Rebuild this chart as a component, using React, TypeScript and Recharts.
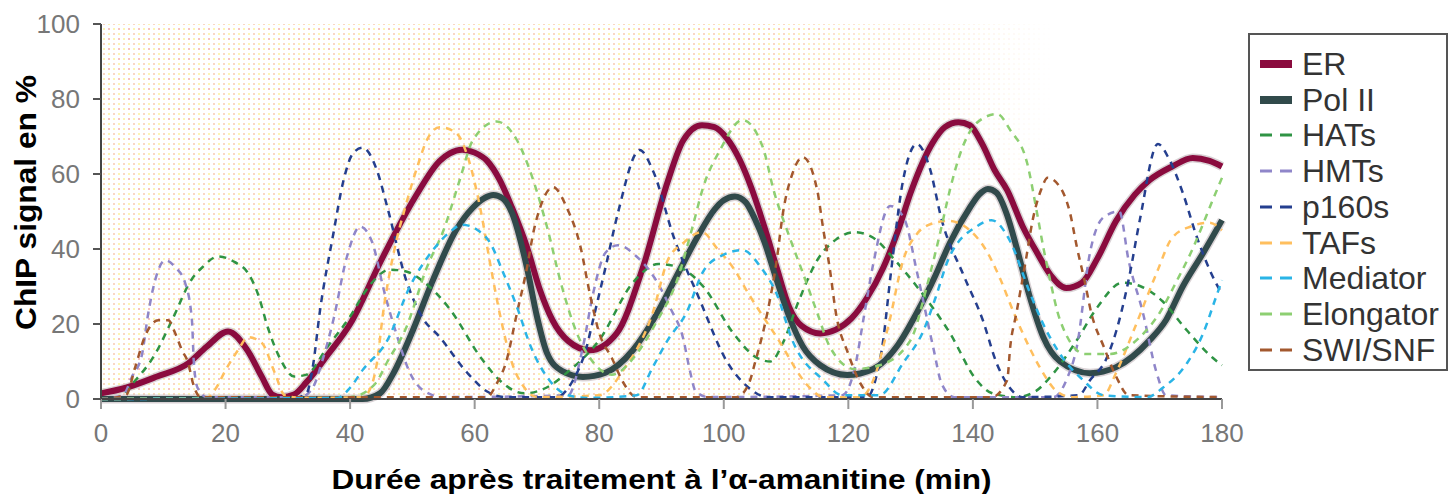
import React from "react";
import { LineChart, Line, XAxis, YAxis, CartesianGrid, Legend } from "recharts";

// ---- data: [time (min), ChIP signal %] ----
const ER_PTS: [number, number][] = [
  [0, 1.5], [4, 3], [9, 6], [14, 9.5], [17, 14], [20.4, 18], [23.5, 13], [25.8, 6], [27.5, 1.2], [29, 0.5],
  [31, 1.2], [33, 4.5], [36.5, 12], [40, 20], [45, 37], [50.5, 54], [54.4, 63.5], [56, 65.5], [58, 66.5],
  [60, 65.7], [62, 63.5], [64, 58.5], [66, 51], [68.4, 40.5], [70.5, 29], [72.5, 21], [75, 15.5], [78.5, 13],
  [82.8, 17.5], [87, 35], [91, 58], [93.5, 69], [96.5, 73], [98.5, 72.5], [100.5, 69.5], [102.5, 64],
  [104.5, 56], [106.5, 46], [108.5, 35], [110.5, 24.5], [112.5, 19.5], [115.5, 17.5], [118, 18.5],
  [120.5, 21.5], [123, 27], [125.6, 35], [128, 45], [130, 55], [133.6, 68.5], [135.5, 72.5], [137.7, 73.8],
  [139.5, 73], [141.5, 68], [143.5, 61], [145.5, 55.7], [148, 46], [150.3, 39], [152.5, 33], [155, 29.6],
  [157.5, 31], [160, 37.5], [163, 47.5], [166, 54.5], [168.4, 58.4], [172, 62], [175.3, 64.3], [178, 63.5],
  [180, 62],
];
const POL2_PTS: [number, number][] = [
  [0, 0], [42, 0], [44.8, 1.5], [47, 7], [50, 18], [53.3, 31.7], [57, 45], [59.7, 51], [61.5, 53.5],
  [63, 54.4], [64.5, 53.5], [66, 49.6], [68.4, 35], [70, 22], [71.6, 12.3], [74, 7.5], [77.4, 5.9], [81, 7],
  [85.4, 13], [89, 22], [92.5, 33], [95.7, 43], [98.5, 50.5], [100, 53], [101.8, 54], [103.5, 52.5],
  [105, 48], [106.5, 42], [108.5, 31.7], [110.5, 22], [112.7, 14], [115.5, 9], [119.8, 6.4], [124, 8],
  [128, 14.5], [131, 23], [134, 33], [136.3, 41.6], [139.5, 51], [141, 54.5], [142.4, 56], [143.8, 55],
  [145.5, 49], [147, 40.5], [149, 28], [151.3, 16.5], [154, 10], [158.8, 6.9], [163, 8.5], [168.4, 15.7],
  [171, 21], [173.7, 30], [177, 39], [180, 47.7],
];
const HATS_PTS: [number, number][] = [
  [0, 0], [3, 0.5], [5, 4], [8.7, 12], [11.4, 21], [14.6, 32], [16.2, 35], [18.8, 38], [21.5, 36.5],
  [23.6, 33.6], [25.2, 28], [26.8, 19], [29, 10], [31, 6], [33, 6.5], [36.4, 14], [40, 22], [43, 30],
  [46.4, 34.5], [49, 34], [52, 31], [56, 24], [61, 11], [64, 5], [68, 1.5], [71.5, 3], [74.8, 7], [80, 15.7],
  [85.4, 31], [89.5, 36], [93, 35], [96.7, 30], [101.5, 17.6], [105.3, 11], [107.5, 10], [109.5, 15],
  [112, 26], [115, 37], [118, 42.5], [121, 44.5], [124, 43], [127.5, 37], [131, 30], [136.3, 17.6],
  [140.6, 5], [143, 1.6], [147, 0.5], [150, 2], [153, 7], [156.7, 15.7], [160, 24.5], [164, 31], [167, 30],
  [170.5, 26], [174, 19], [178.5, 11], [180, 9],
];
const HMTS_PTS: [number, number][] = [
  [0, 0], [3.5, 1], [5, 6], [6.6, 12], [7.5, 22], [8.7, 31.7], [10.3, 37], [12, 35], [13.5, 31], [14.6, 21],
  [14.9, 10], [15.5, 3], [17, 0.5], [32, 0.5], [34, 3], [35.5, 10], [37.3, 21], [39.5, 38], [41.6, 46],
  [43.5, 42], [45.5, 28.5], [47.5, 17], [49.6, 7], [52, 2], [55, 0.5], [75, 1], [77.4, 14], [79, 28],
  [81, 39], [83, 41], [86, 38], [89, 32], [91.5, 24], [93.5, 16], [94.5, 8], [95.5, 2], [97.5, 0.5],
  [119, 1], [121, 8], [122.5, 22], [124, 36], [126.7, 51.5], [129, 48], [131, 34], [133.6, 14], [135, 4],
  [137, 0.5], [153, 0.5], [155, 5], [156.7, 14], [158.8, 39], [161, 48.5], [163.5, 50], [165, 37],
  [167.3, 23], [169.5, 7], [171, 1], [180, 0.5],
];
const P160_PTS: [number, number][] = [
  [0, 0], [31, 0.3], [33, 1.5], [34, 8.5], [35.2, 24], [37.3, 44], [38.9, 58], [40.5, 65.6], [42, 67],
  [44.3, 61], [46, 51], [49, 31.7], [51.5, 22], [54.4, 16.5], [58.8, 7], [62, 2], [65, 0.5], [73, 0.5],
  [75.8, 5], [78, 14], [79, 21], [81, 35], [83, 49.6], [86.5, 66.4], [88.6, 61], [92, 43], [96, 27],
  [100.5, 10], [104, 3], [107, 0.5], [123, 0.5], [124.5, 6], [125.6, 15.7], [126.7, 31.7], [128.8, 58.4],
  [131, 68], [133, 62], [135, 47.7], [138.5, 33], [141.6, 21], [143.8, 9.6], [145.5, 4], [148, 0.5],
  [157, 1], [158.8, 5], [161.5, 11], [163, 18], [165, 31.7], [166.8, 47.7], [169.7, 68], [171.5, 64],
  [173.7, 55], [176, 43], [179, 31], [180, 28],
];
const TAFS_PTS: [number, number][] = [
  [0, 0], [17, 0.3], [18.5, 3], [20, 7.7], [22, 13], [23.6, 16.5], [25.8, 15], [27.9, 7], [29.5, 1],
  [32, 0.3], [42, 0.5], [43.3, 3], [44.3, 9.6], [45.3, 23], [47, 39], [49, 52], [51, 63], [52.3, 69],
  [54.4, 72.5], [57, 71], [59, 64], [61, 50], [62.5, 36], [64, 23], [66, 9.6], [68, 3], [70, 0.5], [80, 1],
  [84, 8], [88.6, 23], [91, 37], [93.5, 41.6], [96.5, 44.5], [99, 40], [101.5, 35], [104, 28], [108.5, 16.5],
  [113.8, 3], [116, 0.5], [122, 0.5], [124, 5], [126.5, 20], [128.8, 37], [131, 44], [133, 46.5], [136, 47.5],
  [139.5, 45], [142, 40], [144.4, 32], [146.4, 23.7], [149, 14], [151, 7.7], [153.5, 2], [156, 0.5],
  [161, 1], [163, 7], [166, 19], [169.5, 33.6], [172, 43], [175, 46], [178, 47], [180, 45],
];
const MEDIATOR_PTS: [number, number][] = [
  [0, 0], [38, 0.3], [40, 3], [42, 7.7], [46, 15.7], [49.6, 30], [53.3, 39.7], [56, 44.5], [58, 46.5],
  [60.5, 45], [62.5, 41.6], [64.5, 34], [66.8, 24.5], [69, 14], [72, 5], [75, 1], [78, 0.3], [86, 1],
  [88.6, 8.5], [91, 15.7], [94, 23], [96.7, 34], [100, 38.5], [103, 39.7], [106, 35], [108.5, 28],
  [111, 15.7], [116, 5], [119, 1], [125, 1], [128.8, 9.6], [132, 18], [134, 27], [136, 37], [140.6, 46],
  [143, 47.7], [146, 42], [149, 29], [151, 21], [154, 12], [157.7, 5], [161, 1], [168, 0.5], [170.5, 3],
  [174.4, 9.6], [177, 17.6], [179, 27], [180, 31.7],
];
const ELONGATOR_PTS: [number, number][] = [
  [0, 0], [40, 0.5], [44, 4], [46, 10], [49, 19], [52.3, 35], [55, 45], [57.6, 58.4], [59.7, 69], [63.5, 74],
  [66.8, 69], [69.4, 58.4], [71.6, 46], [74, 30], [76.4, 17.6], [78.5, 11], [82, 6.5], [86, 12], [89, 20],
  [92.5, 31.7], [95, 46], [96.7, 56.5], [99.4, 66.4], [103, 74.4], [106.3, 67], [108, 55.7], [110.6, 43],
  [112.7, 33.6], [115, 23], [117, 14], [121, 8], [125, 9], [130, 15.7], [132.6, 30], [134.7, 44],
  [136.3, 55.7], [138, 65.6], [140.6, 73.6], [143.9, 76], [146, 71.7], [148.7, 63], [150.3, 49.6],
  [151.3, 40.5], [152.4, 31.7], [154, 21], [158, 12], [162, 12], [166.8, 16.5], [170, 23], [172.8, 31.7],
  [175, 39], [178.5, 53], [180, 59],
];
const SWISNF_PTS: [number, number][] = [
  [0, 0], [4, 1], [5.5, 8.5], [7, 16.5], [9.2, 21], [10.8, 21], [11.9, 17.6], [13, 13], [14, 9.6],
  [14.8, 4], [16, 0.5], [62, 0.5], [63.5, 4], [65, 9.6], [66.8, 23], [68.4, 35], [69.5, 45], [70.5, 51],
  [72.6, 56.5], [74.8, 51], [77, 40.5], [78.5, 28], [80, 17.6], [82, 11], [84, 4], [86, 0.5], [102, 0.5],
  [104, 4], [105, 9.6], [107, 23], [108.5, 37], [109.5, 49.6], [111, 60], [112.7, 64.5], [115, 55.7],
  [116, 45], [117, 35], [118, 23], [120, 12], [122, 4], [124, 0.5], [143, 0.5], [145.5, 5], [146, 14],
  [147, 23], [148.5, 37], [149.6, 47.7], [151, 56], [152, 59], [154, 56.5], [155.6, 49.6], [156.7, 40.5],
  [158, 31], [159, 23], [161, 14], [163, 6], [165, 1], [180, 0.5],
];

const X_TICKS = [0, 20, 40, 60, 80, 100, 120, 140, 160, 180];
const Y_TICKS = [0, 20, 40, 60, 80, 100];
const X_TITLE = "Durée après traitement à l’α-amanitine (min)";
const Y_TITLE = "ChIP signal en %";

type Series = { name: string; pts: [number, number][]; color: string; thick: boolean };

const SERIES: Series[] = [
  { name: "ER", pts: ER_PTS, color: "#8a0b3e", thick: true },
  { name: "Pol II", pts: POL2_PTS, color: "#314a4b", thick: true },
  { name: "HATs", pts: HATS_PTS, color: "#2f9444", thick: false },
  { name: "HMTs", pts: HMTS_PTS, color: "#8f86c9", thick: false },
  { name: "p160s", pts: P160_PTS, color: "#253f8f", thick: false },
  { name: "TAFs", pts: TAFS_PTS, color: "#ffbf5e", thick: false },
  { name: "Mediator", pts: MEDIATOR_PTS, color: "#2ab4e6", thick: false },
  { name: "Elongator", pts: ELONGATOR_PTS, color: "#8dcf72", thick: false },
  { name: "SWI/SNF", pts: SWISNF_PTS, color: "#a3582e", thick: false },
];

// drawing order: thick lines first, dashed on top, Mediator last
const DRAW_ORDER = ["ER", "Pol II", "HATs", "HMTs", "p160s", "TAFs", "Elongator", "SWI/SNF", "Mediator"];

const toData = (pts: [number, number][]) => pts.map(([t, v]) => ({ t, v }));

const FONT = "'Liberation Sans', Arial, sans-serif";

const XTitle = (props: any) => {
  const vb = props.viewBox || {};
  const cx = vb.x + vb.width / 2;
  return (
    <text x={cx} y={vb.y + 90} textAnchor="middle" fontSize={27} fontWeight="bold" fill="#000"
      textLength={660} lengthAdjust="spacingAndGlyphs" fontFamily={FONT}>
      {X_TITLE}
    </text>
  );
};

const YTitle = (props: any) => {
  const vb = props.viewBox || {};
  const x = 28;
  const cy = vb.y + vb.height / 2 - 9;
  return (
    <text x={x} y={cy} transform={`rotate(-90, ${x}, ${cy})`} textAnchor="middle" fontSize={30}
      fontWeight="bold" fill="#000" textLength={255} lengthAdjust="spacingAndGlyphs" fontFamily={FONT}>
      {Y_TITLE}
    </text>
  );
};

const LegendBox = () => (
  <div style={{
    border: "2px solid #555", boxSizing: "border-box", width: 200, height: 338,
    paddingTop: 11, paddingLeft: 10, fontFamily: FONT, background: "#fff",
  }}>
    {SERIES.map((s) => (
      <div key={s.name} style={{ height: 35.75, display: "flex", alignItems: "center" }}>
        <svg width={32} height={12} style={{ display: "block" }}>
          {s.thick ? (
            <rect x={0} y={2} width={32} height={8} fill={s.color} />
          ) : (
            <line x1={0} y1={6} x2={32} y2={6} stroke={s.color} strokeWidth={3} strokeDasharray="12 8" />
          )}
        </svg>
        <span style={{ marginLeft: 10, fontSize: 32, color: "#333", lineHeight: "32px", whiteSpace: "nowrap" }}>
          {s.name}
        </span>
      </div>
    ))}
  </div>
);

export default function App() {
  const ordered = DRAW_ORDER.map((n) => SERIES.find((s) => s.name === n)!);
  return (
    <div style={{ width: 1440, height: 486 }}>
      <LineChart width={1440} height={486} margin={{ top: 16, right: 226, bottom: 0, left: 0 }}
        style={{ fontFamily: FONT }}>
        <defs>
          <pattern id="dots" patternUnits="userSpaceOnUse" width={10} height={10}>
            <rect x={0} y={0} width={10} height={10} fill="#ffffff" />
            <rect x={0} y={0} width={2} height={2} fill="#f7c2bf" />
            <rect x={5} y={0} width={2} height={2} fill="#fbf6b4" />
            <rect x={0} y={5} width={2} height={2} fill="#fbf6b4" />
            <rect x={5} y={5} width={2} height={2} fill="#f9d6c4" />
          </pattern>
          <linearGradient id="fade" x1="0" y1="0" x2="1" y2="0">
            <stop offset="0" stopColor="#ffffff" stopOpacity={0} />
            <stop offset="0.6" stopColor="#ffffff" stopOpacity={0} />
            <stop offset="0.85" stopColor="#ffffff" stopOpacity={1} />
            <stop offset="1" stopColor="#ffffff" stopOpacity={1} />
          </linearGradient>
        </defs>
        <CartesianGrid horizontal={false} vertical={false} fill="url(#dots)" />
        <CartesianGrid horizontal={false} vertical={false} fill="url(#fade)" />
        <XAxis type="number" dataKey="t" domain={[0, 180]} ticks={X_TICKS} interval={0} height={95}
          allowDuplicatedCategory={false}
          axisLine={{ stroke: "#444", strokeWidth: 2 }} tickLine={{ stroke: "#999", strokeWidth: 2 }}
          tickSize={10} tickMargin={15} tick={{ fill: "#777", fontSize: 26 }}
          label={{ content: XTitle }} />
        <YAxis type="number" domain={[0, 100]} ticks={Y_TICKS} interval={0} width={93}
          axisLine={{ stroke: "#444", strokeWidth: 2 }} tickLine={{ stroke: "#555", strokeWidth: 2 }}
          tickSize={8} tickMargin={13} tick={{ fill: "#777", fontSize: 26 }}
          label={{ content: YTitle }} />
        <Legend layout="horizontal" verticalAlign="middle" align="center" content={<LegendBox />}
          wrapperStyle={{ left: 1240, top: 25, width: 200, height: 338 }} />
        {ordered.filter((s) => s.thick).map((s) => (
          <Line key={s.name + "-halo"} data={toData(s.pts)} dataKey="v" name={s.name + " halo"} type="monotone"
            stroke="#c9bfc3" strokeWidth={9} strokeOpacity={0.7} dot={false} activeDot={false}
            legendType="none" isAnimationActive={false} />
        ))}
        {ordered.map((s) => (
          <Line key={s.name} data={toData(s.pts)} dataKey="v" name={s.name} type="monotone"
            stroke={s.color} strokeWidth={s.thick ? 6 : 2.5}
            strokeDasharray={s.thick ? undefined : "7 6"}
            dot={false} activeDot={false} isAnimationActive={false} />
        ))}
      </LineChart>
    </div>
  );
}
